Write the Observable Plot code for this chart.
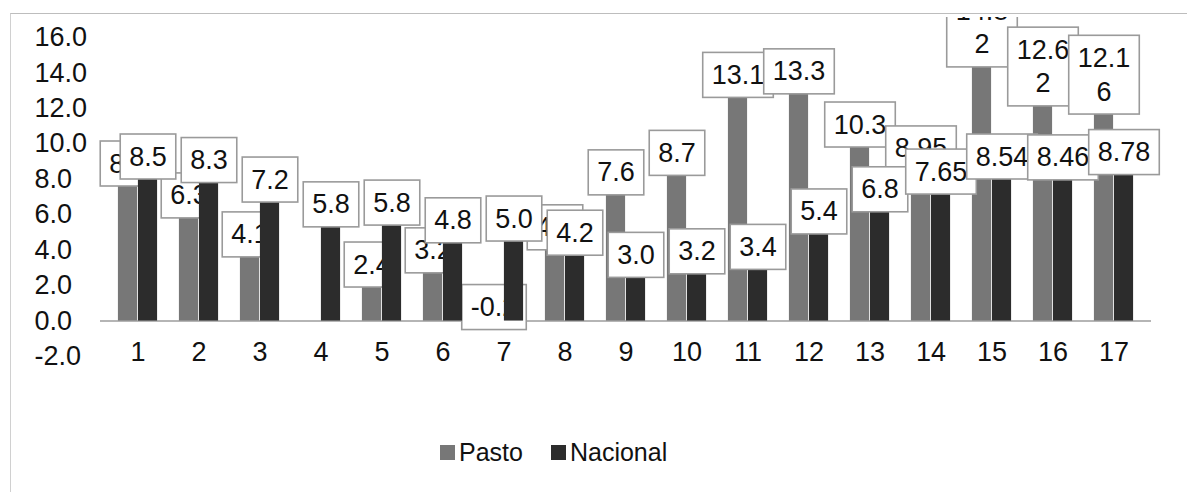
<!DOCTYPE html>
<html>
<head>
<meta charset="utf-8">
<script src="https://cdn.jsdelivr.net/npm/d3@7"></script>
<script src="https://cdn.jsdelivr.net/npm/@observablehq/plot@0.6"></script>
<style>
  body { margin: 0; background: #fff; }
  #wrap { position: relative; width: 1187px; height: 492px; overflow: hidden; background: #fff;
          font-family: "Liberation Sans", Arial, sans-serif; color: #111; }
  #frame { position: absolute; left: 10px; top: 13px; width: 1200px; height: 500px;
           border-top: 1.5px solid #bdbdbd; border-left: 1.5px solid #d0d0d0; }
  #chart { position: absolute; left: 0; top: 17px; }
  #legend { position: absolute; top: 437px; left: 440px; display: flex; align-items: center;
            font-size: 25px; line-height: 30px; }
  #legend .sw { width: 15px; height: 15px; display: inline-block; margin-right: 4px; }
  #legend .item { display: flex; align-items: center; margin-right: 28px; }
</style>
</head>
<body>
<div id="wrap">
  <div id="frame"></div>
  <div id="chart"></div>
  <div id="legend"></div>
</div>
<script>
// ---- data ----
const categories = ["1","2","3","4","5","6","7","8","9","10","11","12","13","14","15","16","17"];
const series = ["Pasto", "Nacional"];
const pasto = [8.1, 6.3, 4.1, null, 2.4, 3.2, -0.2, 4.5, 7.6, 8.7, 13.1, 13.3, 10.3, 8.95, 14.82, 12.62, 12.16];
const pastoLabels = ["8.1","6.3","4.1","","2.4","3.2","-0.2","4.5","7.6","8.7","13.1","13.3","10.3","8.95","14.8\n2","12.6\n2","12.1\n6"];
const nacional = [8.1, 7.9, 6.8, 5.4, 5.5, 4.5, 4.6, 3.8, 2.55, 2.75, 3.0, 5.0, 6.25, 7.25, 8.1, 8.05, 8.35];
const nacionalLabels = ["8.5","8.3","7.2","5.8","5.8","4.8","5.0","4.2","3.0","3.2","3.4","5.4","6.8","7.65","8.54","8.46","8.78"];
const yTicks = [-2, 0, 2, 4, 6, 8, 10, 12, 14, 16];

const colors = { Pasto: "#777777", Nacional: "#2c2c2c" };

const pastoRows = categories.map((c, i) => ({ cat: c, value: pasto[i], label: pastoLabels[i] }))
  .filter(d => d.value != null);
const nacRows = categories.map((c, i) => ({ cat: c, value: nacional[i], label: nacionalLabels[i] }))
  .filter(d => d.value != null);

// ---- layout ----
const W = 1187, H = 393, ML = 100, MR = 36, MT = 20, MB = 54;
const bw = (W - ML - MR) / categories.length;
const barW = 20;
const ins = (bw - barW) / 2;

const labelStyle = { fontSize: 27, lineHeight: 1.25, lineAnchor: "bottom", fill: "#111", textAnchor: "middle" };

const chart = Plot.plot({
  width: W, height: H,
  marginLeft: ML, marginRight: MR, marginTop: MT, marginBottom: MB,
  style: { fontFamily: "Liberation Sans, Arial, sans-serif", fontSize: "27px", background: "transparent", color: "#111", overflow: "hidden" },
  x: { domain: categories, padding: 0, label: null },
  y: { domain: [-2, 16], label: null },
  marks: [
    Plot.axisY({ ticks: yTicks, tickFormat: d => d.toFixed(1), tickSize: 0, tickPadding: 66, textAnchor: "start", fontSize: 27, label: null }),
    Plot.axisX({ tickSize: 0, tickPadding: 0, dy: -15, fontSize: 27, label: null }),
    Plot.ruleY([0], { stroke: "#b5b5b5", strokeWidth: 2 }),
    Plot.barY(pastoRows, { x: "cat", y: "value", fill: colors.Pasto, insetLeft: ins, insetRight: ins, dx: -barW / 2 }),
    Plot.text(pastoRows.filter(d => d.label), { x: "cat", y: d => Math.max(0, d.value), text: "label", dx: -barW / 2, dy: -5, ariaDescription: "pasto-label", ...labelStyle }),
    Plot.barY(nacRows, { x: "cat", y: "value", fill: colors.Nacional, insetLeft: ins, insetRight: ins, dx: barW / 2 }),
    Plot.text(nacRows.filter(d => d.label), { x: "cat", y: d => Math.max(0, d.value), text: "label", dx: barW / 2, dy: -12, ariaDescription: "nac-label", ...labelStyle })
  ]
});

document.getElementById("chart").append(chart);

// white label boxes with a grey border behind each data label
const NS = "http://www.w3.org/2000/svg";
for (const lab of ["pasto-label", "nac-label"]) {
  chart.querySelectorAll(`g[aria-description="${lab}"] text`).forEach(t => {
    const b = t.getBBox();
    const r = document.createElementNS(NS, "rect");
    r.setAttribute("x", b.x - 9);
    r.setAttribute("y", b.y - 7.5);
    r.setAttribute("width", b.width + 18);
    r.setAttribute("height", b.height + 15);
    r.setAttribute("fill", "#fff");
    r.setAttribute("stroke", "#9a9a9a");
    r.setAttribute("stroke-width", 1.6);
    const tr = t.getAttribute("transform");
    if (tr) r.setAttribute("transform", tr);
    t.parentNode.insertBefore(r, t);
  });
}

// legend
const legend = document.getElementById("legend");
series.forEach(s => {
  const item = document.createElement("span");
  item.className = "item";
  const sw = document.createElement("span");
  sw.className = "sw";
  sw.style.background = colors[s];
  item.append(sw, document.createTextNode(s));
  legend.append(item);
});
</script>
</body>
</html>
